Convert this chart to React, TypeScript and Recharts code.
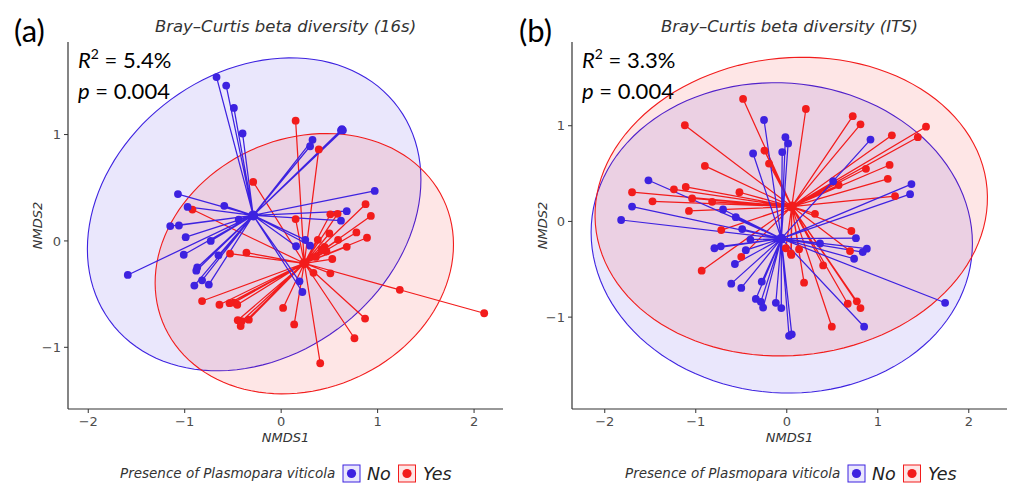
import { ScatterChart, Scatter, XAxis, YAxis } from 'recharts';

type Pt = [number, number];
type Ell = { cx: number; cy: number; a: number; b: number; deg: number };

const BLUE = '#3d22e0';
const RED = '#f21c1c';
const TEXT = "'DejaVu Sans', sans-serif";
const CAL = "Lato, 'Open Sans', sans-serif";

const X_TICKS = [-2, -1, 0, 1, 2];
const Y_TICKS = [-1, 0, 1];

// panel (a) 16s
const A_NO_CENTER: Pt = [-0.29, 0.24];
const A_YES_CENTER: Pt = [0.24, -0.21];
const A_NO: Pt[] = [
  [-0.67, 1.54], [-0.57, 1.46], [-0.49, 1.25], [-0.4, 1.01], [0.62, 1.04], [0.63, 1.05], [0.64, 1.04],
  [0.325, 0.95], [0.3, 0.89], [-1.07, 0.44], [0.97, 0.47], [-0.97, 0.32], [-0.59, 0.33], [0.68, 0.28],
  [0.62, 0.19], [-1.15, 0.14], [-1.06, 0.145], [-0.44, 0.2], [-0.99, 0.035], [-0.73, 0.0], [-1.01, -0.13],
  [-0.65, -0.135], [-1.59, -0.32], [-0.87, -0.25], [-0.88, -0.28], [-0.82, -0.37], [-0.9, -0.42],
  [-0.75, -0.41], [0.25, 0.01], [0.155, -0.05], [0.3, -0.045], [0.19, -0.38], [0.22, -0.48],
];
const A_YES: Pt[] = [
  [0.15, 1.13], [0.39, 0.86], [-0.29, 0.555], [-0.92, 0.295], [0.875, 0.345], [0.51, 0.25], [0.585, 0.255],
  [0.93, 0.235], [0.15, 0.205], [0.5, 0.07], [0.78, 0.08], [0.89, 0.03], [0.38, 0.01], [0.59, 0.01],
  [0.68, -0.055], [0.45, -0.055], [0.47, -0.1], [0.53, -0.17], [0.42, -0.08], [0.36, -0.15], [-0.53, -0.12],
  [-0.36, -0.11], [0.335, -0.3], [0.51, -0.305], [1.23, -0.46], [2.105, -0.68], [-0.82, -0.565],
  [-0.64, -0.6], [-0.535, -0.585], [-0.49, -0.58], [-0.455, -0.6], [0.02, -0.63], [0.87, -0.73],
  [-0.45, -0.745], [-0.41, -0.755], [-0.335, -0.74], [-0.42, -0.8], [0.135, -0.785], [0.76, -0.915],
  [0.405, -1.15],
];
const A_ELL_NO: Ell = { cx: -0.28, cy: 0.25, a: 1.81, b: 1.37, deg: 26.9 };
const A_ELL_YES: Ell = { cx: 0.24, cy: -0.214, a: 1.572, b: 1.191, deg: 15.9 };

// panel (b) ITS
const B_NO_CENTER: Pt = [-0.06, -0.18];
const B_YES_CENTER: Pt = [0.055, 0.155];
const B_NO: Pt[] = [
  [-0.25, 1.06], [-0.015, 0.88], [0.015, 0.815], [-0.37, 0.71], [-0.05, 0.725], [0.92, 0.855], [-1.52, 0.43],
  [0.51, 0.42], [1.37, 0.39], [1.355, 0.285], [-1.7, 0.155], [-1.82, 0.015], [-0.7, 0.125], [-0.56, 0.045],
  [-0.49, -0.08], [-0.4, -0.19], [-0.795, -0.28], [-0.725, -0.26], [-0.45, -0.3], [-0.57, -0.445],
  [-0.61, -0.65], [-0.5, -0.695], [-0.275, -0.63], [-0.34, -0.81], [-0.285, -0.84], [-0.26, -0.9],
  [-0.12, -0.85], [-0.06, -0.905], [0.025, -1.195], [0.055, -1.18], [0.76, -0.175], [0.88, -0.285],
  [0.835, -0.32], [0.74, -0.39], [0.85, -1.1], [1.74, -0.85], [0.365, -0.23],
];
const B_YES: Pt[] = [
  [-0.48, 1.28], [0.21, 1.175], [0.725, 1.1], [0.81, 1.015], [-1.12, 1.005], [1.53, 0.99], [1.44, 0.88],
  [1.155, 0.9], [-0.245, 0.74], [-0.195, 0.605], [-0.9, 0.58], [1.13, 0.59], [0.87, 0.55], [1.11, 0.445],
  [0.57, 0.38], [1.19, 0.265], [-1.7, 0.305], [-1.24, 0.335], [-1.11, 0.36], [-0.52, 0.305], [-1.475, 0.21],
  [-1.04, 0.24], [-0.82, 0.205], [-1.075, 0.11], [0.31, 0.08], [-0.72, -0.09], [0.71, -0.1], [0.695, -0.31],
  [-0.01, -0.28], [0.045, -0.335], [0.135, -0.29], [0.05, -0.35], [-0.5, -0.37], [0.4, -0.46],
  [-0.935, -0.515], [0.19, -0.64], [0.67, -0.86], [0.77, -0.835], [0.81, -0.905], [0.495, -1.1],
];
const B_ELL_NO: Ell = { cx: -0.055, cy: -0.172, a: 2.097, b: 1.619, deg: -3.9 };
const B_ELL_YES: Ell = { cx: 0.049, cy: 0.155, a: 2.16, b: 1.555, deg: 5 };

const toXY = (pts: Pt[]) => pts.map(([x, y]) => ({ x, y }));
const spokes = (c: Pt, pts: Pt[]) => pts.flatMap(p => [{ x: c[0], y: c[1] }, { x: p[0], y: p[1] }]);

// outline of the confidence ellipse, in data units
function outline(e: Ell, n = 120) {
  const th = (e.deg * Math.PI) / 180;
  const out: { x: number; y: number }[] = [];
  for (let i = 0; i < n; i++) {
    const t = (i / n) * Math.PI * 2;
    const u = e.a * Math.cos(t);
    const v = e.b * Math.sin(t);
    out.push({ x: e.cx + u * Math.cos(th) - v * Math.sin(th), y: e.cy + u * Math.sin(th) + v * Math.cos(th) });
  }
  return out;
}

const noDot = () => <g />;
const dot = (color: string, r = 3.9) => (p: any) => <circle cx={p.cx} cy={p.cy} r={r} fill={color} />;
const ellipseLine = (color: string) => (p: any) => {
  const pts = p.points || [];
  if (!pts.length) return <g />;
  const d = 'M' + pts.map((q: any) => `${q.x},${q.y}`).join('L') + 'Z';
  return <path d={d} fill={color} fillOpacity={0.11} stroke={color} strokeWidth={1.1} />;
};
const fmt = (v: number) => String(v).replace('-', '\u2212');

type PanelCfg = {
  left: number; width: number; mLeft: number; mRight: number;
  xDomain: [number, number]; yDomain: [number, number];
  tag: string; title: string; r2: string;
  noC: Pt; yesC: Pt; no: Pt[]; yes: Pt[]; ellNo: Ell; ellYes: Ell;
};

function Panel({ c }: { c: PanelCfg }) {
  const plotL = c.mLeft + 30;
  const mid = plotL + (c.width - plotL - c.mRight) / 2;
  return (
    <div style={{ position: 'absolute', left: c.left, top: 0, width: c.width, height: 483 }}>
      <ScatterChart width={c.width} height={483} margin={{ top: 42, right: c.mRight, bottom: 44, left: c.mLeft }}>
        <XAxis type="number" dataKey="x" domain={c.xDomain} ticks={X_TICKS} allowDataOverflow height={30}
          tickFormatter={fmt} tickSize={4} tickMargin={4}
          axisLine={{ stroke: '#333', strokeWidth: 1.2 }} tickLine={{ stroke: '#333' }}
          tick={{ fill: '#4d4d4d', fontSize: 13, fontFamily: TEXT }} />
        <YAxis type="number" dataKey="y" domain={c.yDomain} ticks={Y_TICKS} allowDataOverflow width={30}
          tickFormatter={fmt} tickSize={4} tickMargin={3}
          axisLine={{ stroke: '#333', strokeWidth: 1.2 }} tickLine={{ stroke: '#333' }}
          tick={{ fill: '#4d4d4d', fontSize: 13, fontFamily: TEXT }} />
        <Scatter data={outline(c.ellNo)} shape={noDot} line={ellipseLine(BLUE)} lineType="joint" isAnimationActive={false} />
        <Scatter data={outline(c.ellYes)} shape={noDot} line={ellipseLine(RED)} lineType="joint" isAnimationActive={false} />
        <Scatter data={spokes(c.yesC, c.yes)} shape={noDot} lineType="joint"
          line={{ stroke: RED, strokeWidth: 1.25, strokeLinejoin: 'round' }} isAnimationActive={false} />
        <Scatter data={spokes(c.noC, c.no)} shape={noDot} lineType="joint"
          line={{ stroke: BLUE, strokeWidth: 1.25, strokeLinejoin: 'round' }} isAnimationActive={false} />
        <Scatter data={toXY(c.yes)} shape={dot(RED)} isAnimationActive={false} />
        <Scatter data={toXY(c.no)} shape={dot(BLUE)} isAnimationActive={false} />
        <Scatter data={toXY([c.yesC])} shape={dot(RED, 5)} isAnimationActive={false} />
        <Scatter data={toXY([c.noC])} shape={dot(BLUE, 5)} isAnimationActive={false} />
      </ScatterChart>
      <svg width={c.width} height={483} style={{ position: 'absolute', left: 0, top: 0, pointerEvents: 'none' }}>
        <text x={14} y={42} fontFamily={CAL} fontSize={31} fill="#000">{c.tag}</text>
        <text x={mid} y={32} textAnchor="middle" fontFamily={TEXT} fontStyle="italic" fontSize={16.5} fill="#333">{c.title}</text>
        <text x={plotL + 10} y={68} fontFamily={CAL} fontSize={22} fill="#000">
          <tspan fontStyle="italic">R</tspan><tspan fontSize={14} dy={-9}>2</tspan><tspan dy={9}> = {c.r2}</tspan>
        </text>
        <text x={plotL + 10} y={99} fontFamily={CAL} fontSize={22} fill="#000">
          <tspan fontStyle="italic">p</tspan> = 0.004
        </text>
        <text x={mid} y={441.5} textAnchor="middle" fontFamily={TEXT} fontStyle="italic" fontSize={13} fill="#333">NMDS1</text>
        <text x={42} y={225.5} transform="rotate(-90, 42, 225.5)" textAnchor="middle" fontFamily={TEXT}
          fontStyle="italic" fontSize={13} fill="#333">NMDS2</text>
        <text x={120} y={478} fontFamily={TEXT} fontStyle="italic" fontSize={13.5} fill="#333">Presence of Plasmopara viticola</text>
        <rect x={343} y={465} width={17} height={17} fill={BLUE} fillOpacity={0.11} stroke={BLUE} strokeWidth={1} />
        <circle cx={351.5} cy={473.5} r={4.6} fill={BLUE} />
        <text x={367} y={480} fontFamily={TEXT} fontStyle="italic" fontSize={17.5} fill="#222">No</text>
        <rect x={398.5} y={465} width={17} height={17} fill={RED} fillOpacity={0.11} stroke={RED} strokeWidth={1} />
        <circle cx={407} cy={473.5} r={4.6} fill={RED} />
        <text x={423} y={480} fontFamily={TEXT} fontStyle="italic" fontSize={17.5} fill="#222">Yes</text>
      </svg>
    </div>
  );
}

const PANEL_A: PanelCfg = {
  left: 0, width: 505, mLeft: 38, mRight: 2, xDomain: [-2.21, 2.3], yDomain: [-1.58, 1.87],
  tag: '(a)', title: 'Bray\u2013Curtis beta diversity (16s)', r2: '5.4%',
  noC: A_NO_CENTER, yesC: A_YES_CENTER, no: A_NO, yes: A_YES, ellNo: A_ELL_NO, ellYes: A_ELL_YES,
};
const PANEL_B: PanelCfg = {
  left: 505, width: 506, mLeft: 37, mRight: 4, xDomain: [-2.36, 2.42], yDomain: [-1.96, 1.875],
  tag: '(b)', title: 'Bray\u2013Curtis beta diversity (ITS)', r2: '3.3%',
  noC: B_NO_CENTER, yesC: B_YES_CENTER, no: B_NO, yes: B_YES, ellNo: B_ELL_NO, ellYes: B_ELL_YES,
};

export default function App() {
  return (
    <div style={{ position: 'absolute', left: 0, top: 0, width: 1011, height: 483, background: '#fff' }}>
      <Panel c={PANEL_A} />
      <Panel c={PANEL_B} />
    </div>
  );
}
